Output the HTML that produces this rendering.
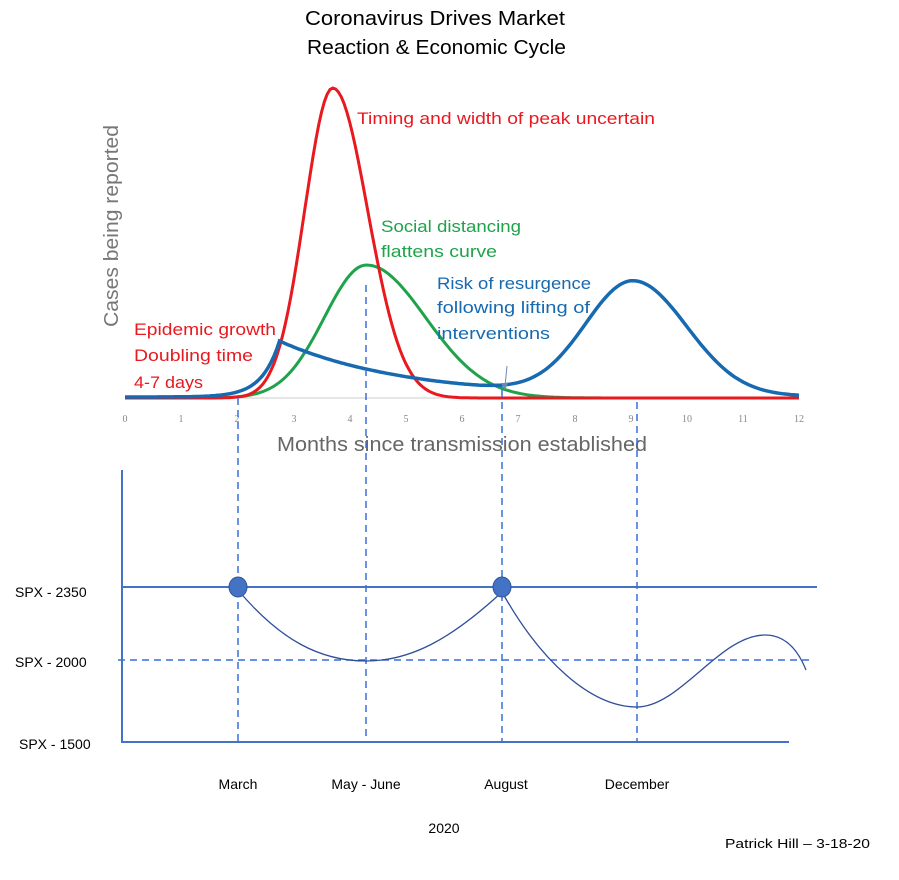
<!DOCTYPE html>
<html><head><meta charset="utf-8"><style>
html,body{margin:0;padding:0;background:#fff;}
svg{display:block;font-family:"Liberation Sans",sans-serif;}
</style></head><body>
<svg id="s" width="899" height="880" viewBox="0 0 899 880" xmlns="http://www.w3.org/2000/svg">
<text x="305" y="25" font-size="20" textLength="260" lengthAdjust="spacingAndGlyphs" fill="#000">Coronavirus Drives Market</text>
<text x="307" y="54" font-size="20" textLength="259" lengthAdjust="spacingAndGlyphs" fill="#000">Reaction &amp; Economic Cycle</text>
<text transform="translate(118,327) rotate(-90)" font-size="20" textLength="202" lengthAdjust="spacingAndGlyphs" fill="#777">Cases being reported</text>
<line x1="125" y1="398" x2="799" y2="398" stroke="#ccc" stroke-width="1"/>
<g font-family="Liberation Serif,serif" font-size="10" fill="#888" text-anchor="middle">
<text x="125" y="422">0</text><text x="181" y="422">1</text><text x="237" y="422">2</text><text x="294" y="422">3</text><text x="350" y="422">4</text><text x="406" y="422">5</text><text x="462" y="422">6</text><text x="518" y="422">7</text><text x="575" y="422">8</text><text x="631" y="422">9</text><text x="687" y="422">10</text><text x="743" y="422">11</text><text x="799" y="422">12</text>
</g>
<text x="277" y="451" font-size="20" textLength="370" lengthAdjust="spacingAndGlyphs" fill="#666">Months since transmission established</text>
<path id="green" fill="none" stroke="#1fa34a" stroke-width="3"/>
<path id="red" fill="none" stroke="#e8191f" stroke-width="3"/>
<path id="blue" fill="none" stroke="#1769b0" stroke-width="3.5"/>
<text x="357" y="124" font-size="17" textLength="298" lengthAdjust="spacingAndGlyphs" fill="#e8191f">Timing and width of peak uncertain</text>
<text x="381" y="232" font-size="17" textLength="140" lengthAdjust="spacingAndGlyphs" fill="#1fa34a">Social distancing</text>
<text x="381" y="257" font-size="17" textLength="116" lengthAdjust="spacingAndGlyphs" fill="#1fa34a">flattens curve</text>
<text x="437" y="289" font-size="17" textLength="154" lengthAdjust="spacingAndGlyphs" fill="#1769b0">Risk of resurgence</text>
<text x="437" y="313" font-size="17" textLength="153" lengthAdjust="spacingAndGlyphs" fill="#1769b0">following lifting of</text>
<text x="437" y="339" font-size="17" textLength="113" lengthAdjust="spacingAndGlyphs" fill="#1769b0">interventions</text>
<text x="134" y="335" font-size="17" textLength="142" lengthAdjust="spacingAndGlyphs" fill="#e8191f">Epidemic growth</text>
<text x="134" y="361" font-size="17" textLength="119" lengthAdjust="spacingAndGlyphs" fill="#e8191f">Doubling time</text>
<text x="134" y="388" font-size="17" textLength="69" lengthAdjust="spacingAndGlyphs" fill="#e8191f">4-7 days</text>
<line x1="507" y1="366" x2="505" y2="386" stroke="#6a8ab8" stroke-width="1"/>
<path d="M501,383 L505,390 L508,383 Z" fill="#6a8ab8"/>
<g stroke="#3a6fd8" stroke-width="1.5" stroke-dasharray="7,5" fill="none">
<line x1="238" y1="398" x2="238" y2="742"/>
<line x1="366" y1="285" x2="366" y2="742"/>
<line x1="502" y1="390" x2="502" y2="742"/>
<line x1="637" y1="402" x2="637" y2="742"/>
<line x1="118" y1="660" x2="810" y2="660"/>
</g>
<g stroke="#4472c4" stroke-width="2" fill="none">
<line x1="122" y1="470" x2="122" y2="743"/>
<line x1="122" y1="587" x2="817" y2="587"/>
<line x1="122" y1="742" x2="789" y2="742"/>
</g>
<path d="M238,590 C280,640 320,661 366,661 C410,661 450,640 502,592 C540,660 590,707 637,707 C680,707 720,635 765,635 C785,635 798,650 806,670" fill="none" stroke="#2f4f9a" stroke-width="1.3"/>
<ellipse cx="238" cy="587" rx="9" ry="10" fill="#4472c4" stroke="#2f5597" stroke-width="1"/>
<ellipse cx="502" cy="587" rx="9" ry="10" fill="#4472c4" stroke="#2f5597" stroke-width="1"/>
<g font-size="14" fill="#000">
<text x="15" y="597">SPX - 2350</text>
<text x="15" y="667">SPX - 2000</text>
<text x="19" y="749">SPX - 1500</text>
<text x="238" y="789" text-anchor="middle">March</text>
<text x="366" y="789" text-anchor="middle">May - June</text>
<text x="506" y="789" text-anchor="middle">August</text>
<text x="637" y="789" text-anchor="middle">December</text>
<text x="444" y="833" text-anchor="middle">2020</text>
<text x="725" y="848" font-size="13" textLength="145" lengthAdjust="spacingAndGlyphs">Patrick Hill – 3-18-20</text>
</g>
</svg>
<script>
function X(m){return 125+56.17*m;}
function Y(h){return 398-h;}
function path(f){var d="";for(var m=0;m<=12.0001;m+=0.05){d+=(d?"L":"M")+X(m).toFixed(1)+","+Y(f(m)).toFixed(1);}return d;}
function g(m,mu,sl,sr,h){var s=m<mu?sl:sr;return h*Math.exp(-(m-mu)*(m-mu)/(2*s*s));}
document.getElementById("red").setAttribute("d",path(function(m){return g(m,3.7,0.5,0.62,310);}));
document.getElementById("green").setAttribute("d",path(function(m){return g(m,4.3,0.75,1.05,133);}));
document.getElementById("blue").setAttribute("d",path(function(m){
 var a=m<2.75?56*Math.exp((m-2.75)*3.2):56*Math.exp(-(m-2.75)*0.45);
 return a+g(m,9.05,0.85,0.95,113)+1;}));
</script>
</body></html>
